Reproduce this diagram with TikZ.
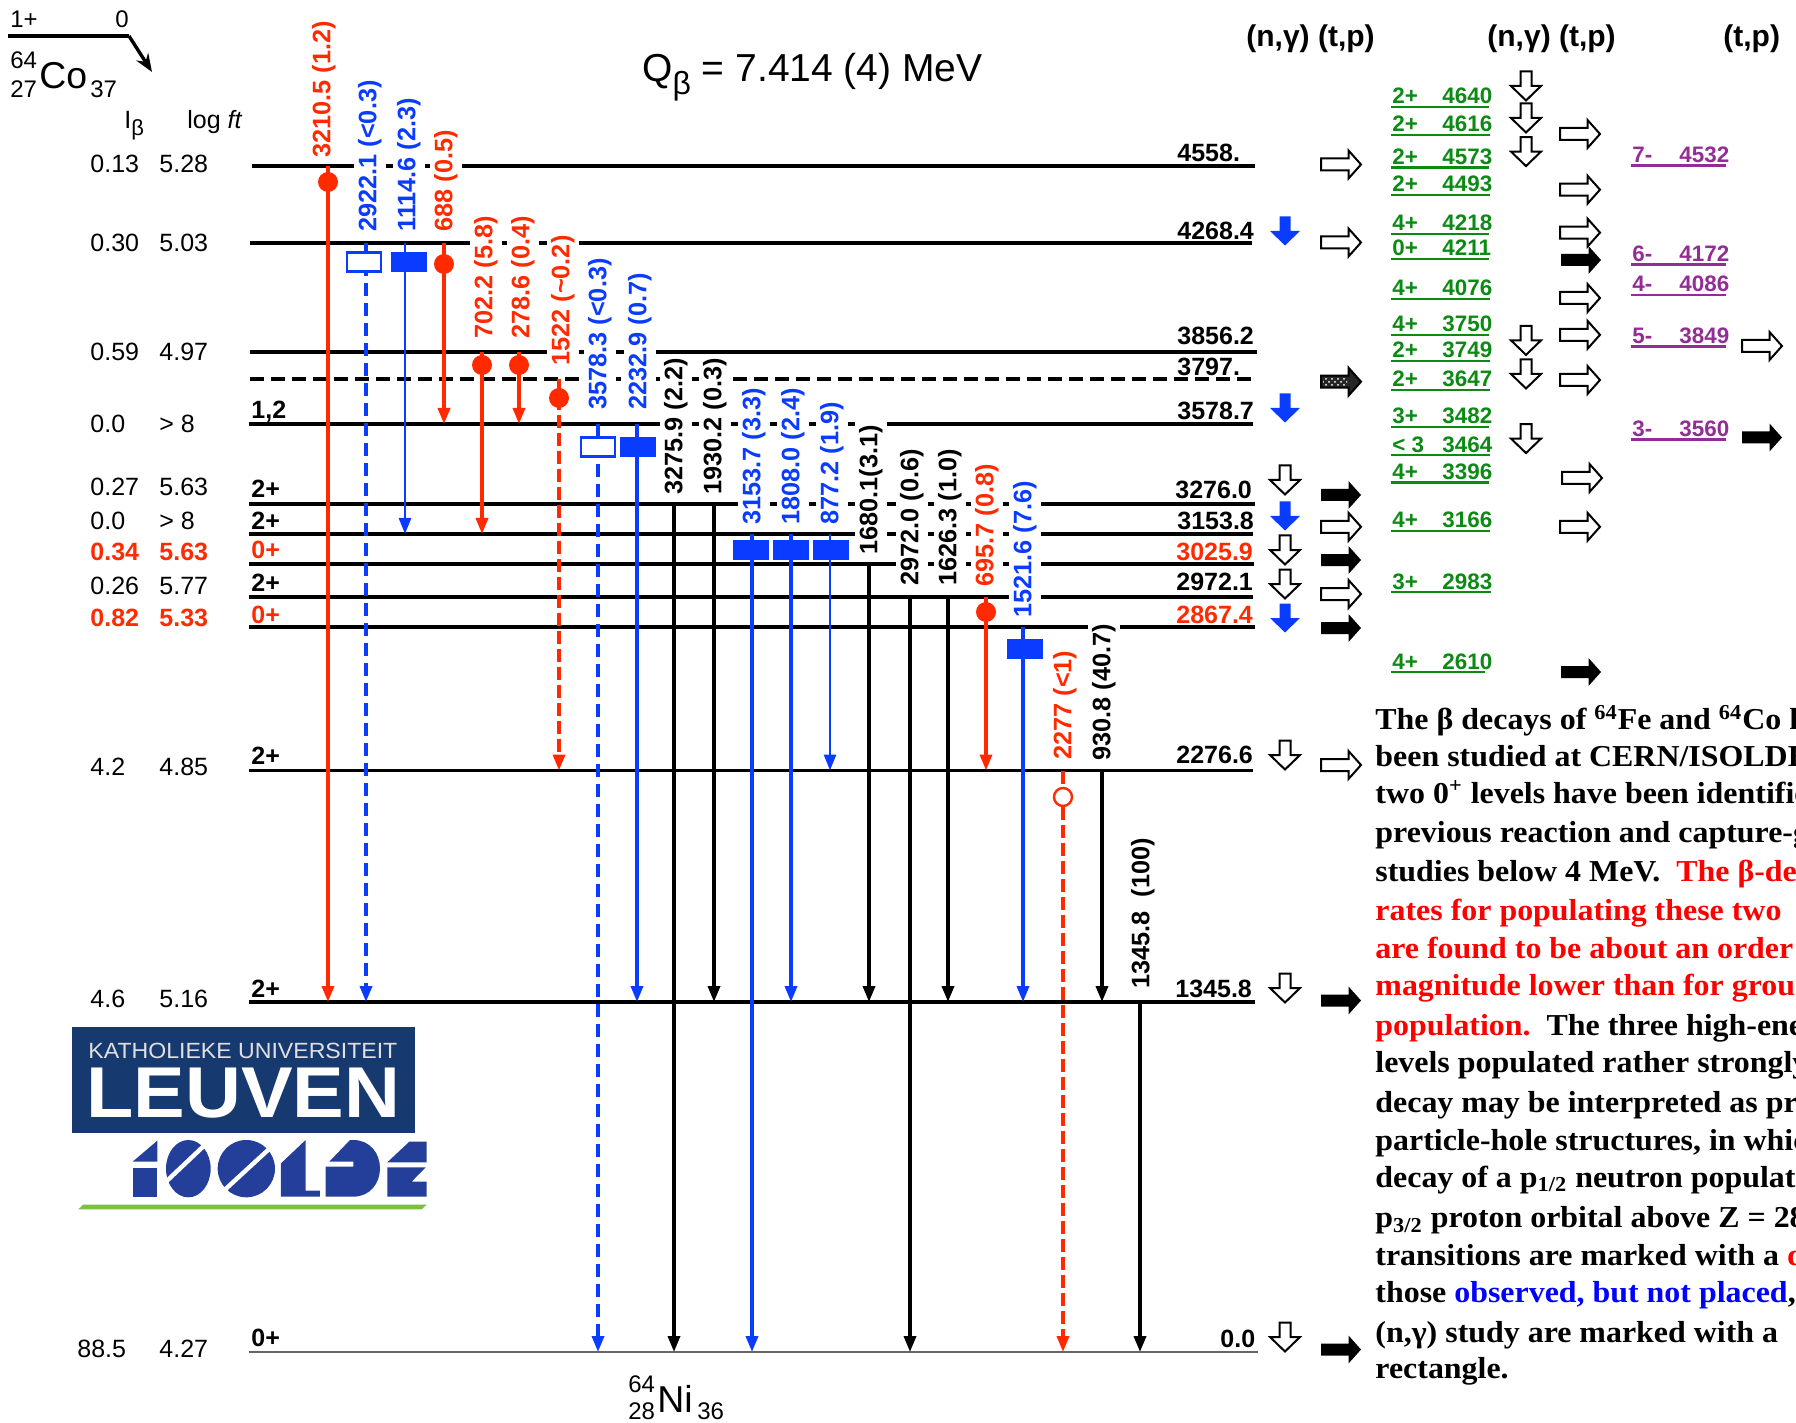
\documentclass[tikz,border=0pt]{standalone}
\usepackage{fontspec}
\setmainfont{Liberation Sans}
\newfontfamily\serifbold{Liberation Serif}[Scale=1.0]
\usetikzlibrary{arrows.meta,patterns}
\definecolor{cred}{RGB}{255,42,0}
\definecolor{cblue}{RGB}{10,60,255}
\definecolor{cgreen}{RGB}{12,138,20}
\definecolor{cpurple}{RGB}{147,45,150}
\definecolor{cnavy}{RGB}{22,58,112}
\definecolor{cisol}{RGB}{36,63,153}
\definecolor{clime}{RGB}{122,193,66}
\definecolor{tred}{RGB}{255,0,0}
\definecolor{tblue}{RGB}{0,0,255}
\newcommand{\rpoly}{(-20,-6) -- (7.5,-6) -- (7.5,-14) -- (20,0) -- (7.5,14) -- (7.5,6) -- (-20,6) -- cycle}
\newcommand{\dpoly}{(-5.5,-14.5) -- (5.5,-14.5) -- (5.5,0) -- (15,0) -- (0,14.5) -- (-15,0) -- (-5.5,0) -- cycle}
\tikzset{
  fs/.style={font=\fontsize{#1}{#1}\selectfont},
  fb/.style={font=\fontsize{#1}{#1}\selectfont\bfseries},
  plain/.style={inner sep=0pt,anchor=base west},
  lev/.style={line width=1.65pt,black},
  tr/.style={line width=1.75pt},
  thintr/.style={line width=1.4pt},
  tip/.style={-{Triangle[length=8pt,width=6pt]}},
  dashb/.style={dash pattern=on 6.5pt off 3.5pt},
  gamlab/.style={rotate=90,anchor=west,fill=white,inner xsep=2pt,inner ysep=0pt,
    minimum height=16pt,text height=9pt,text depth=2.6pt,fb=12.65},
  dot/.style={circle,inner sep=0pt,minimum size=10pt},
  fdot/.style={dot,fill=cred},
  odot/.style={dot,draw=cred,fill=white,line width=1.2pt,minimum size=9pt},
  frect/.style={rectangle,inner sep=0pt,minimum width=18pt,minimum height=10pt,fill=cblue},
  orect/.style={rectangle,inner sep=0pt,minimum width=17pt,minimum height=9.5pt,draw=cblue,fill=white,line width=1.2pt},
  ropen/.style={draw=black,line width=1pt,fill=white},
  rblack/.style={fill=black},
  dopen/.style={draw=black,line width=1pt,fill=white},
  dblue/.style={fill=cblue},
  body/.style={plain,xscale=1.05,font=\serifbold\fontsize{15.2}{16}\selectfont\bfseries},
}
\begin{document}
\begin{tikzpicture}[x=0.5pt,y=-0.5pt]
\useasboundingbox (0,0) rectangle (1796,1423);
\clip (0,0) rectangle (1796,1423);

% parent
\coordinate (P0) at (8,36);
\coordinate (P1) at (129,36);
\coordinate (P2) at (152,72);
\draw[line width=1.6pt] (P0) -- (P1);
\draw[line width=1.7pt,-{Stealth[length=9pt,width=7pt]}] (P1) -- (P2);
\node[plain,fs=12] (pa) at (10,28) {1+};
\node[plain,fs=12] (pb) at (115,28) {0};
\node[plain,fs=12] (pc) at (10,69) {64};
\node[plain,fs=12] (pd) at (10,98) {27};
\node[plain,fs=18.7] (pe) at (39,89) {Co};
\node[plain,fs=12] (pf) at (90,98) {37};
\node[plain,fs=19.5] (q) at (642,82) {Q\raisebox{-.32em}{\fontsize{16}{16}\selectfont β} = 7.414 (4) MeV};
\node[plain,fs=12.5] (hi) at (124,129) {I\raisebox{-.28em}{\fontsize{11}{11}\selectfont β}};
\node[plain,fs=12.5] (hl) at (187,129) {log \textit{ft}};

% daughter
\node[plain,fs=12] (na) at (628,1392) {64};
\node[plain,fs=12] (nb) at (628,1419) {28};
\node[plain,fs=18.7] (nc) at (657,1412) {Ni};
\node[plain,fs=12] (nd) at (697,1419) {36};

% levels
\foreach \n/\xa/\xb/\ly in {4558/252/1255/166,4268/250/1252/243,3856/250/1257/352,3578/249/1253/424,
  3276/249/1255/504,3153/249/1253/534,3025/249/1254/564,2972/249/1253/597,2867/249/1255/627,
  2276/249/1253/770.5,1345/249/1255/1002}{
  \coordinate (L\n) at (\xa,\ly);
  \coordinate (R\n) at (\xb,\ly);
  \draw[lev] (L\n) -- (R\n);
}
\coordinate (L3797) at (250,379);
\coordinate (R3797) at (1252,379);
\draw[lev,dash pattern=on 7pt off 3.5pt] (L3797) -- (R3797);
\coordinate (L0) at (249,1352);
\coordinate (R0) at (1258,1352);
\draw[line width=0.8pt,black!60] (L0) -- (R0);

% level energies
\foreach \n/\lx/\ly/\c/\t in {a/1177/161.5/black/4558.,b/1177/239.5/black/4268.4,c/1177/345/black/3856.2,
  d/1177/376/black/3797.,e/1177/419.5/black/3578.7,f/1175/499/black/3276.0,g/1177/530/black/3153.8,
  h/1176/560/cred/3025.9,i/1176/590/black/2972.1,j/1176/623/cred/2867.4,k/1176/763/black/2276.6,
  l/1175/997.5/black/1345.8,m/1220/1347/black/0.0}{
  \node[plain,fb=12.5,text=\c] (E\n) at (\lx,\ly) {\t};
}
% spins
\foreach \n/\ly/\c/\t in {a/418.5/black/{1,2},b/498/black/2+,c/530/black/2+,d/559/cred/0+,e/591/black/2+,
  f/623/cred/0+,g/764/black/2+,h/997/black/2+,i/1346/black/0+}{
  \node[plain,fb=12.5,text=\c] (S\n) at (251,\ly) {\t};
}
% intensity and log ft table
\foreach \n/\lx/\ib/\lf/\ly in {a/90/0.13/5.28/172.5,b/90/0.30/5.03/251.5,c/90/0.59/4.97/361,d/90/0.0/{> 8}/433,
  e/90/0.27/5.63/495,f/90/0.0/{> 8}/530,h/90/0.26/5.77/594.5,k/90/4.2/4.85/775,l/90/4.6/5.16/1007,m/77/88.5/4.27/1357}{
  \node[plain,fs=12.5] (I\n) at (\lx,\ly) {\ib};
  \node[plain,fs=12.5] (F\n) at (159,\ly) {\lf};
}
\foreach \n/\ib/\lf/\ly in {g/0.34/5.63/560,j/0.82/5.33/626}{
  \node[plain,fb=12.5,text=cred] (I\n) at (90,\ly) {\ib};
  \node[plain,fb=12.5,text=cred] (F\n) at (159,\ly) {\lf};
}

% gamma labels (white background opens the level lines)
\foreach \n/\lx/\by/\c/\t in {
  a/324/158/cred/{3210.5 (1.2)},b/370/232/cblue/{2922.1 (<0.3)},c/409/232/cblue/{1114.6 (2.3)},
  d/446/232/cred/{688 (0.5)},e/486/339/cred/{702.2 (5.8)},f/523/339/cred/{278.6 (0.4)},
  g/563/366/cred/{1522 (\textasciitilde 0.2)},h/600/410/cblue/{3578.3 (<0.3)},i/640/410/cblue/{2232.9 (0.7)},
  j/676/495/black/{3275.9 (2.2)},k/715/495/black/{1930.2 (0.3)},l/754/525/cblue/{3153.7 (3.3)},
  m/793/525/cblue/{1808.0 (2.4)},o/832/525/cblue/{877.2 (1.9)},p/871/555/black/{1680.1(3.1)},
  q/912/586/black/{2972.0 (0.6)},r/950/586/black/{1626.3 (1.0)},s/987/587/cred/{695.7 (0.8)},
  t/1025/618/cblue/{1521.6 (7.6)},u/1065/760/cred/{2277 (<1)},v/1104/761/black/{930.8 (40.7)},
  w/1143/989/black/{1345.8\ \ (100)}}{
  \node[gamlab,text=\c] (G\n) at (\lx,\by+4) {\t};
}

% transitions
\draw[tr,tip,cred] (328,0 |- L4558) -- (328,0 |- L1345);
\draw[tr,tip,cblue,dashb] (366,0 |- L4268) -- (366,0 |- L1345);
\draw[thintr,tip,cblue] (405,0 |- L4268) -- (405,0 |- L3153);
\draw[tr,tip,cred] (444,0 |- L4268) -- (444,0 |- L3578);
\draw[tr,tip,cred] (482,0 |- L3856) -- (482,0 |- L3153);
\draw[tr,tip,cred] (519,0 |- L3856) -- (519,0 |- L3578);
\draw[tr,tip,cred,dash pattern=on 6.5pt off 2.5pt] (559,0 |- L3797) -- (559,0 |- L2276);
\draw[tr,tip,cblue,dashb] (598,0 |- L3578) -- (598,0 |- L0);
\draw[tr,tip,cblue] (637,0 |- L3578) -- (637,0 |- L1345);
\draw[tr,tip,black] (674,0 |- L3276) -- (674,0 |- L0);
\draw[tr,tip,black] (714,0 |- L3276) -- (714,0 |- L1345);
\draw[tr,tip,cblue] (752,0 |- L3153) -- (752,0 |- L0);
\draw[tr,tip,cblue] (791,0 |- L3153) -- (791,0 |- L1345);
\draw[thintr,tip,cblue] (830,0 |- L3153) -- (830,0 |- L2276);
\draw[tr,tip,black] (869,0 |- L3025) -- (869,0 |- L1345);
\draw[tr,tip,black] (910,0 |- L2972) -- (910,0 |- L0);
\draw[tr,tip,black] (948,0 |- L2972) -- (948,0 |- L1345);
\draw[tr,tip,cred] (986,0 |- L2972) -- (986,0 |- L2276);
\draw[tr,tip,cblue] (1023,0 |- L2867) -- (1023,0 |- L1345);
\draw[tr,tip,cred,dash pattern=on 6.5pt off 2.5pt] (1063,0 |- L2276) -- (1063,0 |- L0);
\draw[tr,tip,black] (1102,0 |- L2276) -- (1102,0 |- L1345);
\draw[tr,tip,black] (1140,0 |- L1345) -- (1140,0 |- L0);

% markers
\foreach \n/\lx/\ly in {a/328/182,b/444/264,c/482/365,d/519/365,e/559/398,f/986/612}{
  \node[fdot] (D\n) at (\lx,\ly) {};
}
\node[odot] (Dg) at (1063,797) {};
\foreach \n/\lx/\ly in {a/409/262,b/638/447,c/751/550,d/791/550,e/831/550,f/1025/649}{
  \node[frect] (B\n) at (\lx,\ly) {};
}
\node[orect] (Og) at (364,262) {};
\node[orect] (Oh) at (598,447) {};

% reaction headers
\node[plain,fb=15] (h1) at (1246,47) {(n,γ) (t,p)};
\node[plain,fb=15] (h2) at (1487,47) {(n,γ) (t,p)};
\node[plain,fb=15] (h3) at (1723,47) {(t,p)};

% green levels
\foreach \s/\e/\ly/\xe in {2+/4640/107/1489,2+/4616/135/1490,2+/4573/167.5/1489,2+/4493/195/1490,
  4+/4218/234/1489,0+/4211/259/1489,4+/4076/299/1490,4+/3750/335/1489,2+/3749/361/1490,2+/3647/390/1490,
  3+/3482/427/1489,{< 3}/3464/455/1490,4+/3396/482.5/1489,4+/3166/531/1490,3+/2983/592/1491,4+/2610/672/1485}{
  \coordinate (gl\e) at (1391,\ly);
  \coordinate (gr\e) at (\xe,\ly);
  \draw[line width=1.3pt,cgreen] (gl\e) -- (gr\e);
  \node[plain,fb=11.2,text=cgreen] (gs\e) at (1392,\ly-3) {\s};
  \node[plain,fb=11.2,text=cgreen] (ge\e) at (1442,\ly-3) {\e};
}
% purple levels
\foreach \s/\e/\ly in {7-/4532/165.5,6-/4172/264.5,4-/4086/295,5-/3849/346.5,3-/3560/439.5}{
  \coordinate (pl\e) at (1631,\ly);
  \coordinate (pr\e) at (1726,\ly);
  \draw[line width=1.3pt,cpurple] (pl\e) -- (pr\e);
  \node[plain,fb=11.2,text=cpurple] (ps\e) at (1632,\ly-3) {\s};
  \node[plain,fb=11.2,text=cpurple] (pe\e) at (1679,\ly-3) {\e};
}

% (t,p) arrows
\foreach \lx/\ly in {1341/164.5,1341/242.5,1341/526.8,1341/594,1341/765,
  1580/134,1580/189.7,1580/232.6,1580/298,1580/334.8,1580/380,1582/478,1580/526.8,1762/346}{
  \draw[ropen,shift={(\lx,\ly)}] \rpoly;
}
\foreach \lx/\ly in {1341/495,1341/560,1341/628,1341/1000.5,1341/1349.5,1581/260,1581/672,1762/437.5}{
  \fill[rblack,shift={(\lx,\ly)}] \rpoly;
}
\draw[line width=1pt,fill=black!85,shift={(1341,381.7)}] \rpoly;
\fill[pattern=crosshatch dots,pattern color=white,shift={(1341,381.7)}] (-18,-4) rectangle (6,4);

% (n,gamma) arrows
\foreach \lx/\ly in {1285/480,1285/550,1285/584,1285/755,1285/988,1285/1337,
  1526/86,1526/118,1526/151.6,1526/340.4,1526/374,1526/438.6}{
  \draw[dopen,shift={(\lx,\ly)}] \dpoly;
}
\foreach \ly in {231,408,516,618}{\fill[dblue,shift={(1285,\ly)}] \dpoly;}

% Leuven logo
\fill[cnavy] (72,1027) rectangle (415,1133);
\node[plain,fs=11,text=black!12,xscale=1.05] (kul) at (88,1058) {KATHOLIEKE UNIVERSITEIT};
\node[plain,fb=36,text=white,xscale=1.075] (leu) at (86,1117) {LEUVEN};

% Isolde logo
\begin{scope}[shift={(60,1000)},scale=1/3]
  \fill[cisol] (218,485) -- (292,422) -- (292,485) -- cycle;
  \fill[cisol] (218,503) rectangle (292,590);
  \fill[cisol] (385,506) ellipse [x radius=67,y radius=86];
  \draw[white,line width=2.2pt] (315,548) -- (445,425);
  \fill[cisol] (559,506) ellipse [x radius=86,y radius=86];
  \draw[white,line width=2.2pt] (485,578) -- (635,440);
  \fill[cisol] (663,490) -- (737,420) -- (737,572) -- (780,572) -- (780,590) -- (663,590) -- cycle;
  \fill[cisol] (797,500) -- (880,500) -- (880,485) -- (808,485) -- (870,420) -- (880,420)
     .. controls (930,420) and (960,460) .. (960,505) .. controls (960,550) and (930,590) .. (880,590) -- (797,590) -- cycle;
  \fill[cisol] (982,487) -- (1048,425) -- (1100,425) -- (1100,487) -- cycle;
  \fill[cisol] (982,502) -- (1097,502) -- (1055,545) -- (1100,545) -- (1100,590) -- (982,590) -- cycle;
  \fill[clime] (55,628) -- (70,614) -- (1100,614) -- (1085,628) -- cycle;
\end{scope}

% body text
\node[body] (t1) at (1375,729.6) {The β decays of \textsuperscript{64}Fe and \textsuperscript{64}Co h};
\node[body] (t2) at (1375,766) {been studied at CERN/ISOLDE};
\node[body] (t3) at (1375,803) {two 0\textsuperscript{+} levels have been identifie};
\node[body] (t4) at (1375,842.7) {previous reaction and capture-g};
\node[body] (t5) at (1375,881) {studies below 4 MeV.\ \ \textcolor{tred}{The β-de}};
\node[body,text=tred] (t6) at (1375,920) {rates for populating these two};
\node[body,text=tred] (t7) at (1375,958) {are found to be about an order};
\node[body,text=tred] (t8) at (1375,995) {magnitude lower than for groun};
\node[body] (t9) at (1375,1035) {\textcolor{tred}{population.}\ \ The three high-ene};
\node[body] (t10) at (1375,1072.7) {levels populated rather strongly};
\node[body] (t11) at (1375,1112.7) {decay may be interpreted as pr};
\node[body] (t12) at (1375,1150) {particle-hole structures, in whic};
\node[body] (t13) at (1375,1187) {decay of a p\textsubscript{1/2} neutron populate};
\node[body] (t14) at (1375,1227.7) {p\textsubscript{3/2} proton orbital above Z = 28};
\node[body] (t15) at (1375,1265) {transitions are marked with a \textcolor{tred}{d}};
\node[body] (t16) at (1375,1302) {those \textcolor{tblue}{observed, but not placed},};
\node[body] (t17) at (1375,1342) {(n,γ) study are marked with a};
\node[body] (t18) at (1375,1378) {rectangle.};
\end{tikzpicture}
\end{document}
